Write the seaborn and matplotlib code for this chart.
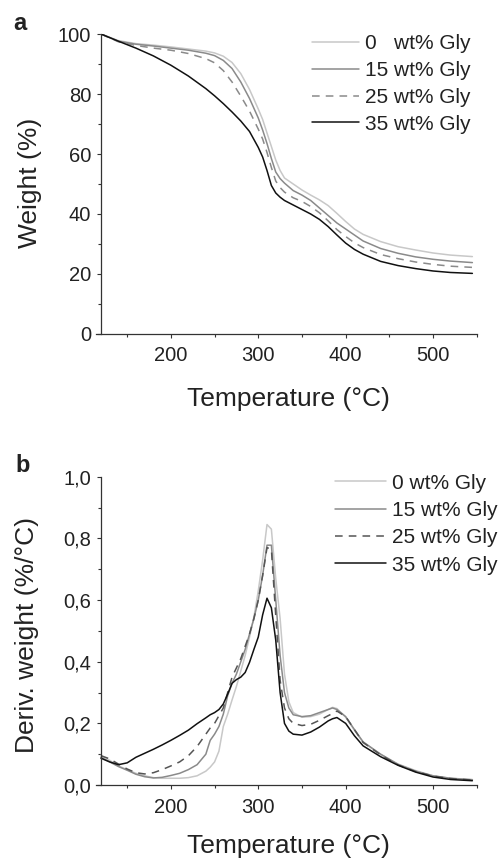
import matplotlib
matplotlib.use('Agg')
import matplotlib.pyplot as plt
import seaborn as sns
from matplotlib.ticker import MultipleLocator, FuncFormatter

# TGA curves (panel a)
temp_a = [120, 140, 160, 180, 200, 220, 240, 250, 260, 270, 280, 290, 300, 305, 310, 315, 320,
          325, 330, 340, 350, 360, 370, 380, 390, 400, 410, 420, 440, 460, 480, 500, 520, 545]
w_0 = [100, 97.8, 96.8, 96.3, 95.7, 95.0, 94.3, 93.7, 92.6, 90.5, 86.8, 81.5, 75.0, 71.5, 67.0, 62.5, 58.0,
       54.5, 52.0, 50.0, 48.0, 46.3, 44.7, 42.8, 40.2, 37.5, 35.0, 33.2, 30.8, 29.1, 28.0, 27.0, 26.3, 25.8]
w_15 = [100, 97.6, 96.6, 96.0, 95.3, 94.6, 93.6, 92.8, 91.2, 88.5, 84.0, 78.5, 72.0, 68.0, 63.5, 58.5, 54.0,
        51.8, 50.3, 47.8, 46.3, 44.5, 42.0, 39.5, 37.0, 35.0, 33.0, 31.0, 28.5, 26.9, 25.7, 24.9, 24.3, 23.8]
w_25 = [100, 97.4, 96.2, 95.3, 94.6, 93.5, 91.8, 90.4, 87.8, 84.0, 79.3, 74.3, 68.3, 65.0, 60.5, 55.5, 51.0,
        48.8, 47.3, 45.4, 44.2, 42.5, 40.4, 37.7, 34.8, 32.5, 30.4, 28.8, 26.5, 25.1, 24.0, 23.2, 22.6, 22.2]
w_35 = [100, 97.6, 95.3, 92.7, 89.6, 86.0, 81.8, 79.4, 76.8, 74.0, 71.0, 67.5, 62.2, 59.0, 54.5, 49.5, 47.0,
        45.6, 44.5, 43.0, 41.5, 40.0, 38.2, 35.8, 33.0, 30.3, 28.2, 26.6, 24.2, 22.8, 21.8, 21.0, 20.5, 20.2]

# DTG curves (panel b)
temp_b = [120, 130, 140, 150, 160, 170, 180, 190, 200, 210, 220, 230, 240, 245, 250, 255, 260, 265, 270, 275,
          280, 285, 290, 295, 300, 305, 310, 315, 320, 325, 330, 335, 340, 350, 360, 370, 380, 385, 390, 400,
          410, 420, 440, 460, 480, 500, 520, 545]
d_0 = [.097, .080, .062, .050, .038, .030, .024, .022, .022, .022, .024, .030, .045, .058, .075, .110, .190, .230, .276, .320,
       .370, .420, .480, .545, .630, .730, .845, .830, .670, .540, .360, .270, .235, .220, .222, .230, .245, .252, .248, .220,
       .178, .138, .100, .068, .047, .030, .022, .018]
d_15 = [.090, .075, .060, .048, .035, .027, .023, .025, .031, .038, .050, .066, .100, .145, .165, .190, .230, .290, .330, .360,
        .400, .440, .490, .540, .600, .680, .778, .778, .600, .420, .300, .250, .228, .222, .225, .235, .245, .250, .245, .222,
        .180, .140, .100, .067, .045, .030, .022, .017]
d_25 = [.095, .085, .068, .052, .040, .036, .040, .050, .062, .075, .095, .125, .165, .185, .200, .225, .250, .300, .350, .380,
        .410, .450, .490, .540, .600, .680, .770, .765, .550, .340, .250, .215, .200, .193, .197, .210, .225, .232, .240, .222,
        .180, .138, .098, .065, .044, .029, .021, .016]
d_35 = [.087, .075, .066, .072, .090, .103, .116, .130, .145, .161, .178, .199, .218, .228, .235, .245, .263, .295, .330, .342,
        .350, .365, .398, .440, .480, .552, .606, .575, .470, .300, .200, .175, .165, .162, .172, .188, .208, .215, .219, .200,
        .160, .127, .092, .064, .042, .026, .018, .014]

labels_a = ['0   wt% Gly', '15 wt% Gly', '25 wt% Gly', '35 wt% Gly']
labels_b = ['0 wt% Gly', '15 wt% Gly', '25 wt% Gly', '35 wt% Gly']

sns.set_style('ticks')
plt.rcParams['font.family'] = ['Liberation Sans', 'DejaVu Sans']
plt.rcParams['text.color'] = '#222222'
plt.rcParams['axes.labelcolor'] = '#222222'
plt.rcParams['xtick.color'] = '#333333'
plt.rcParams['ytick.color'] = '#333333'
plt.rcParams['xtick.labelcolor'] = '#222222'
plt.rcParams['ytick.labelcolor'] = '#222222'

fig = plt.figure(figsize=(5.03, 8.59), dpi=100)
ax_a = fig.add_axes([0.1903, 0.6112, 0.7575, 0.3492])
ax_b = fig.add_axes([0.1903, 0.0861, 0.7575, 0.3589])


def style_axis(ax):
    ax.set_xlim(114, 550)
    ax.spines['top'].set_visible(False)
    ax.spines['right'].set_visible(False)
    ax.spines['left'].set_position(('data', 120))
    for s in ['left', 'bottom']:
        ax.spines[s].set_color('#333333')
        ax.spines[s].set_linewidth(0.9)
    ax.xaxis.set_major_locator(MultipleLocator(100))
    ax.xaxis.set_minor_locator(MultipleLocator(50))
    ax.tick_params(which='major', direction='out', length=3, width=0.8, labelsize=14.5)
    ax.tick_params(which='minor', direction='out', length=2.5, width=0.8)
    ax.tick_params(axis='x', which='major', pad=6)
    ax.tick_params(axis='y', which='major', pad=4)


# panel a
sns.lineplot(x=temp_a, y=w_0, ax=ax_a, color='#c8c8c8', lw=1.1, label=labels_a[0])
sns.lineplot(x=temp_a, y=w_15, ax=ax_a, color='#8a8a8a', lw=1.1, label=labels_a[1])
sns.lineplot(x=temp_a, y=w_25, ax=ax_a, color='#8a8a8a', lw=1.1, ls=(0, (5, 4)), label=labels_a[2])
sns.lineplot(x=temp_a, y=w_35, ax=ax_a, color='#111111', lw=1.1, label=labels_a[3])
style_axis(ax_a)
ax_a.set_ylim(0, 100)
ax_a.yaxis.set_major_locator(MultipleLocator(20))
ax_a.yaxis.set_minor_locator(MultipleLocator(10))
ax_a.set_xlabel('Temperature (°C)', fontsize=19)
ax_a.set_ylabel('Weight (%)', fontsize=19)
ax_a.xaxis.set_label_coords(0.507, -0.177)
ax_a.yaxis.set_label_coords(-0.14, 0.504)
ax_a.legend(loc='upper left', bbox_to_anchor=(0.568, 1.0), frameon=False, fontsize=15,
            handlelength=2.25, handletextpad=0.3, labelspacing=0.38, borderpad=0, borderaxespad=0)

# panel b
sns.lineplot(x=temp_b, y=d_0, ax=ax_b, color='#c8c8c8', lw=1.1, label=labels_b[0])
sns.lineplot(x=temp_b, y=d_15, ax=ax_b, color='#8a8a8a', lw=1.1, label=labels_b[1])
sns.lineplot(x=temp_b, y=d_25, ax=ax_b, color='#555555', lw=1.1, ls=(0, (5, 4)), label=labels_b[2])
sns.lineplot(x=temp_b, y=d_35, ax=ax_b, color='#111111', lw=1.1, label=labels_b[3])
style_axis(ax_b)
ax_b.set_ylim(0, 1.0)
ax_b.yaxis.set_major_locator(MultipleLocator(0.2))
ax_b.yaxis.set_minor_locator(MultipleLocator(0.1))
ax_b.yaxis.set_major_formatter(FuncFormatter(lambda v, p: f'{v:.1f}'.replace('.', ',')))
ax_b.set_xlabel('Temperature (°C)', fontsize=19)
ax_b.set_ylabel('Deriv. weight (%/°C)', fontsize=19)
ax_b.xaxis.set_label_coords(0.507, -0.16)
ax_b.yaxis.set_label_coords(-0.15, 0.487)
ax_b.legend(loc='upper left', bbox_to_anchor=(0.628, 1.01), frameon=False, fontsize=15,
            handlelength=2.45, handletextpad=0.3, labelspacing=0.4, borderpad=0, borderaxespad=0)

fig.text(0.026, 0.965, 'a', fontsize=17, fontweight='bold', va='baseline')
fig.text(0.03, 0.4505, 'b', fontsize=17, fontweight='bold', va='baseline')

fig.savefig('out.png', dpi=100)
